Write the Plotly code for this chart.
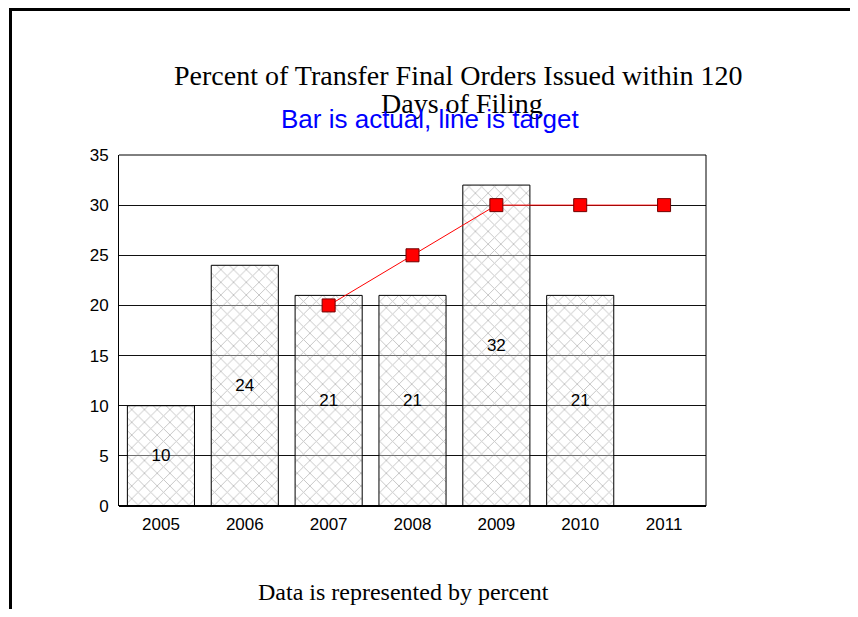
import plotly.graph_objects as go

years = ["2005", "2006", "2007", "2008", "2009", "2010", "2011"]
actual = [10, 24, 21, 21, 32, 21, None]
target = [None, None, 20, 25, 30, 30, 30]

title_line1 = "Percent of Transfer Final Orders Issued within 120"
title_line2 = "Days of Filing"
subtitle = "Bar is actual, line is target"
footer = "Data is represented by percent"

SERIF = "Liberation Serif, Times New Roman, serif"
SANS = "Liberation Sans, Arial, sans-serif"

# page offset (body margin) and figure size
OFF = 8
W, H = 858 - 2 * OFF, 617 - 2 * OFF
# plot area in page pixels
L, R, T, B = 119, 706, 155, 506


def px(x):
    return (x - L) / (R - L)


def py(y):
    return (B - y) / (B - T)


fig = go.Figure()
fig.add_trace(go.Bar(
    x=years, y=actual,
    marker=dict(color="rgba(255,255,255,0.4)",
                line=dict(color="black", width=1),
                pattern=dict(shape="x", fgcolor="#8a8a8a", size=9, solidity=0.2)),
    text=[("" if v is None else str(v)) for v in actual],
    textposition="inside", insidetextanchor="middle", textangle=0,
    constraintext="none",
    textfont=dict(family=SANS, size=17, color="black"),
    showlegend=False, hoverinfo="skip",
))
fig.add_trace(go.Scatter(
    x=years, y=target, mode="lines+markers",
    line=dict(color="red", width=1),
    marker=dict(symbol="square", size=13, color="red",
                line=dict(color="#700000", width=1)),
    showlegend=False,
))

fig.update_layout(
    width=W, height=H,
    margin=dict(l=L - OFF, r=(W + OFF) - R, t=T - OFF, b=(H + OFF) - B, pad=0),
    paper_bgcolor="white", plot_bgcolor="white",
    bargap=0.2,
    font=dict(family=SANS, size=17, color="black"),
)
fig.update_xaxes(type="category", range=[-0.5, 6.5], showgrid=False,
                 showline=False, ticks="", ticklabelstandoff=6,
                 tickfont=dict(family=SANS, size=17), zeroline=False)
fig.update_yaxes(range=[0, 35], dtick=5, showgrid=True, gridcolor="#111111",
                 gridwidth=1, showline=True, linecolor="black", linewidth=1,
                 mirror=False, ticks="", ticklabelstandoff=6, zeroline=False,
                 tickfont=dict(family=SANS, size=17))

shapes = [
    # outer frame
    dict(type="rect", xref="paper", yref="paper",
         x0=px(10.5), y0=py(9.5), x1=px(900), y1=py(700),
         line=dict(color="black", width=3), layer="above"),
    # top and right plot border
    dict(type="line", xref="paper", yref="paper", x0=0, x1=1, y0=1, y1=1,
         line=dict(color="black", width=1)),
    dict(type="line", xref="paper", yref="paper", x0=1, x1=1, y0=0, y1=1,
         line=dict(color="black", width=1)),
    # bottom axis (thicker)
    dict(type="line", xref="paper", yref="paper", x0=0, x1=1, y0=0, y1=0,
         line=dict(color="black", width=2), layer="above"),
]
fig.update_layout(shapes=shapes)

common = dict(xref="paper", yref="paper", showarrow=False,
              xanchor="center", yanchor="middle")
fig.add_annotation(text=title_line1, x=px(458), y=py(75),
                   font=dict(family=SERIF, size=28, color="black"), **common)
fig.add_annotation(text=title_line2, x=px(462), y=py(103),
                   font=dict(family=SERIF, size=28, color="black"), **common)
fig.add_annotation(text=subtitle, x=px(430), y=py(119),
                   font=dict(family=SANS, size=26, color="blue"), **common)
fig.add_annotation(text=footer, x=px(403), y=py(592),
                   font=dict(family=SERIF, size=24, color="black"), **common)

fig.write_html("out.html")
